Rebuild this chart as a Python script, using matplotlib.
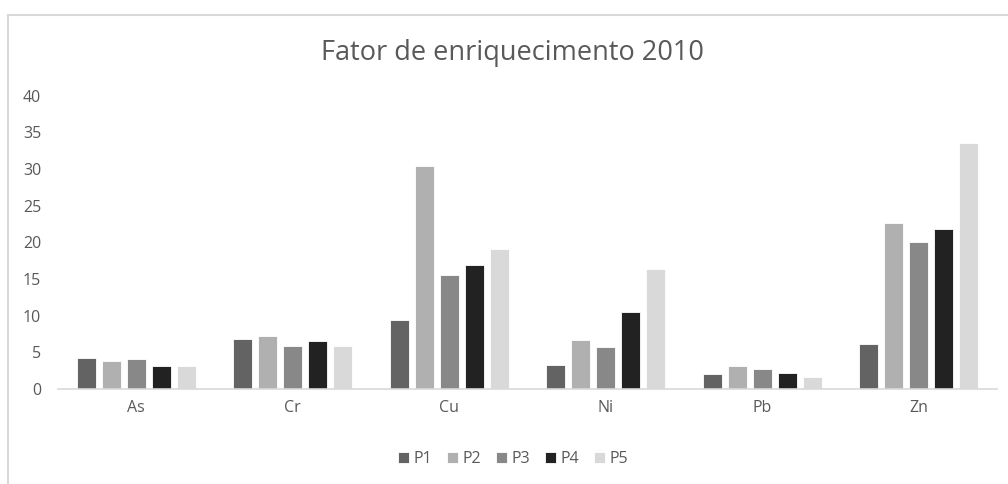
import numpy as np
import matplotlib
matplotlib.use('Agg')
import matplotlib.pyplot as plt
from matplotlib.patches import Rectangle

elements = ['As', 'Cr', 'Cu', 'Ni', 'Pb', 'Zn']
series = ['P1', 'P2', 'P3', 'P4', 'P5']
p1 = [4.3, 6.8, 9.4, 3.3, 2.0, 6.1]
p2 = [3.9, 7.2, 30.4, 6.7, 3.1, 22.7]
p3 = [4.1, 5.9, 15.5, 5.8, 2.7, 20.0]
p4 = [3.2, 6.6, 16.9, 10.5, 2.2, 21.8]
p5 = [3.2, 5.9, 19.1, 16.4, 1.7, 33.5]
colors = ['#636363', '#b0b0b0', '#888888', '#222222', '#d9d9d9']

plt.rcParams['font.family'] = ['Open Sans', 'DejaVu Sans']

fig = plt.figure(figsize=(10.08, 4.84), dpi=100)
ax = fig.add_axes([0.0575, 0.196, 0.9315, 0.606])

# chart border, like the Excel frame
fig.patches.append(Rectangle((8 / 1008, -0.01), 1.1, 1 - 15 / 484 + 0.01,
                             transform=fig.transFigure, fill=False,
                             edgecolor='#d9d9d9', linewidth=1.5))

x = np.arange(len(elements))
width = 0.122
pitch = 0.16
for i, vals in enumerate([p1, p2, p3, p4, p5]):
    ax.bar(x + (i - 2) * pitch, vals, width, color=colors[i],
           edgecolor='white', linewidth=0.6, label=series[i])

ax.set_xlim(-0.5, len(elements) - 0.5)
ax.set_ylim(0, 40)
ax.set_yticks(range(0, 41, 5))
ax.set_xticks(x)
ax.set_xticklabels(elements)
ax.tick_params(axis='both', length=0, labelsize=11.5, colors='#595959')
ax.tick_params(axis='y', pad=12)
ax.tick_params(axis='x', pad=8)
for s in ['top', 'right', 'left']:
    ax.spines[s].set_visible(False)
ax.spines['bottom'].set_color('#d9d9d9')
ax.spines['bottom'].set_linewidth(1.2)

fig.text(0.508, 0.89, 'Fator de enriquecimento 2010', ha='center',
         va='center', fontsize=19.5, color='#595959')

leg = fig.legend(loc='center', bbox_to_anchor=(0.509, 0.052), ncol=5,
                 frameon=False, fontsize=11.5, handlelength=0.7,
                 handleheight=0.7, handletextpad=0.3, columnspacing=0.9)
for t in leg.get_texts():
    t.set_color('#595959')

fig.savefig('out.png', dpi=100)
